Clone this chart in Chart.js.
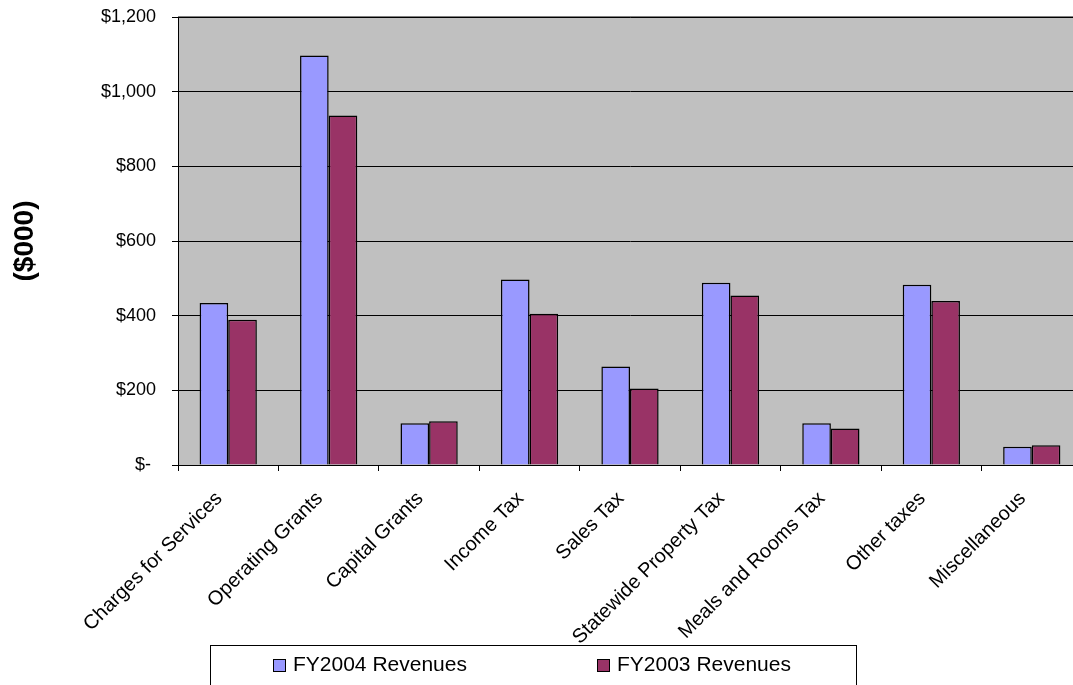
<!DOCTYPE html>
<html>
<head>
<meta charset="utf-8">
<script src="https://cdn.jsdelivr.net/npm/chart.js@4/dist/chart.umd.min.js"></script>
<style>
  html, body { margin: 0; padding: 0; background: #fff; overflow: hidden; }
  #wrap { width: 1090px; height: 710px; }
</style>
</head>
<body>
<div id="wrap"><canvas id="revChart" width="1090" height="710"></canvas></div>
<script>
const categories = [
  'Charges for Services', 'Operating Grants', 'Capital Grants', 'Income Tax',
  'Sales Tax', 'Statewide Property Tax', 'Meals and Rooms Tax', 'Other taxes',
  'Miscellaneous'
];
const fy2004 = [434, 1097, 112, 497, 264, 488, 112, 483, 49];
const fy2003 = [389, 936, 117, 405, 205, 454, 98, 439, 53];
const yTicks = [0, 200, 400, 600, 800, 1000, 1200];

const FONT = 'Liberation Sans, Arial, sans-serif';

// grey plot background plus the darker top edge
const plotBackground = {
  id: 'plotBackground',
  beforeDraw(chart) {
    const { ctx, chartArea: a } = chart;
    ctx.save();
    ctx.fillStyle = '#C0C0C0';
    ctx.fillRect(a.left, a.top, a.right - a.left, a.bottom - a.top);
    ctx.strokeStyle = '#808080';
    ctx.lineWidth = 2;
    ctx.beginPath();
    ctx.moveTo(a.left, a.top);
    ctx.lineTo(a.right, a.top);
    ctx.stroke();
    ctx.restore();
  }
};

// boxed legend under the axis labels
const boxLegend = {
  id: 'boxLegend',
  afterDraw(chart) {
    const { ctx } = chart;
    ctx.save();
    ctx.strokeStyle = '#000';
    ctx.lineWidth = 1;
    ctx.strokeRect(210.5, 645.5, 646, 80);
    const itemX = [273, 597];
    ctx.font = '21px ' + FONT;
    ctx.textBaseline = 'middle';
    chart.data.datasets.forEach((ds, i) => {
      const x = itemX[i];
      ctx.fillStyle = ds.backgroundColor;
      ctx.fillRect(x, 659, 12, 12);
      ctx.strokeRect(x + 0.5, 659.5, 12, 12);
      ctx.fillStyle = '#000';
      ctx.fillText(ds.label, x + 20, 665);
    });
    ctx.restore();
  }
};

new Chart(document.getElementById('revChart'), {
  type: 'bar',
  data: {
    labels: categories,
    datasets: [{
      label: 'FY2004 Revenues',
      data: fy2004,
      backgroundColor: '#9999FF',
      borderColor: '#000',
      borderWidth: 1.5,
      categoryPercentage: 0.57,
      barPercentage: 1.0
    }, {
      label: 'FY2003 Revenues',
      data: fy2003,
      backgroundColor: '#993366',
      borderColor: '#000',
      borderWidth: 1.5,
      categoryPercentage: 0.57,
      barPercentage: 1.0
    }]
  },
  options: {
    responsive: false,
    animation: false,
    layout: { padding: { top: 17, right: 8, bottom: 20, left: 0 } },
    plugins: {
      legend: { display: false },
      tooltip: { enabled: false }
    },
    scales: {
      x: {
        grid: { drawOnChartArea: false, color: '#000', tickLength: 6, offset: true },
        border: { color: '#000', width: 1 },
        ticks: {
          minRotation: 45,
          maxRotation: 45,
          color: '#000',
          font: { family: FONT, size: 20 },
          padding: 16,
          labelOffset: -9
        },
        afterFit(scale) { scale.height = 225; }
      },
      y: {
        min: 0,
        max: 1200,
        afterBuildTicks(scale) { scale.ticks = yTicks.map(v => ({ value: v })); },
        grid: { color: '#000', lineWidth: 1, tickLength: 6 },
        border: { color: '#000', width: 1 },
        ticks: {
          color: '#000',
          font: { family: FONT, size: 18 },
          padding: 16,
          callback: v => v === 0 ? '$- ' : '$' + v.toLocaleString('en-US')
        },
        title: {
          display: true,
          text: '($000)',
          color: '#000',
          font: { family: FONT, size: 28, weight: 'bold' },
          padding: { top: 8, bottom: 0 }
        },
        afterFit(scale) {
          scale.width = 178;
          scale.paddingTop = 0;
          scale.paddingBottom = 0;
        }
      }
    }
  },
  plugins: [plotBackground, boxLegend]
});
</script>
</body>
</html>
